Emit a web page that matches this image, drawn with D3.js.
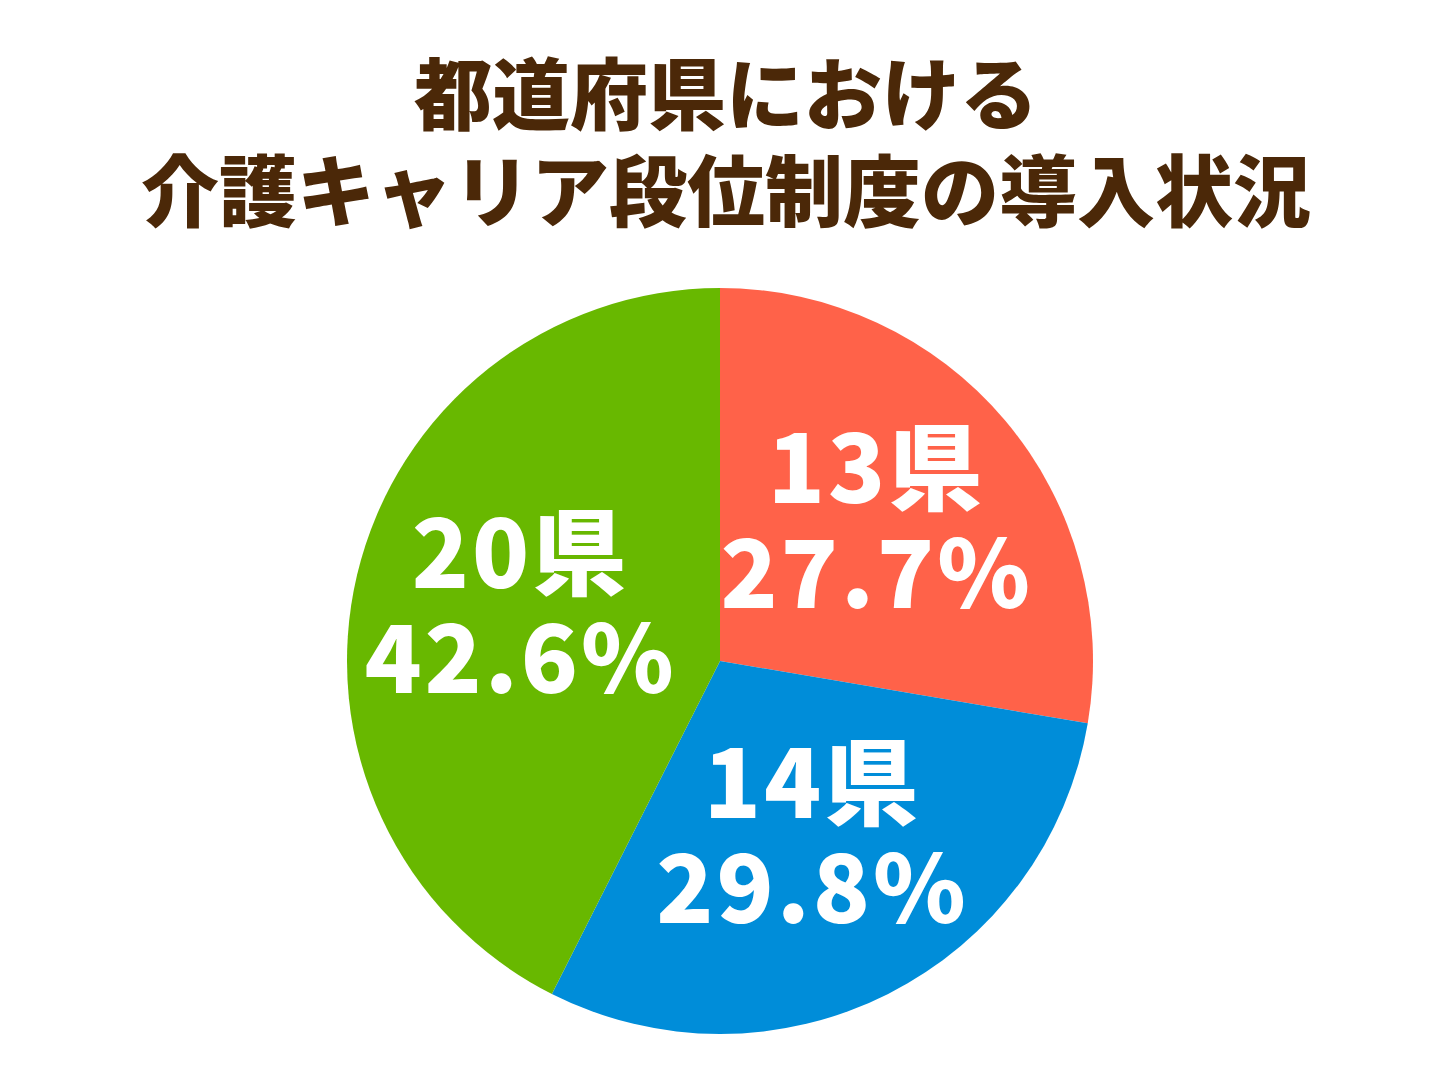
<!DOCTYPE html>
<html><head><meta charset="utf-8">
<script src="https://cdn.jsdelivr.net/npm/d3@7"></script>
<style>body{margin:0;background:#fff}</style>
</head><body>
<svg id="c" width="1452" height="1089"></svg>
<script>
const titleLines = ['都道府県における', '介護キャリア段位制度の導入状況'];
const counts = ['13県', '14県', '20県'];
const shares = [27.7, 29.8, 42.6];
const colors = ['#FF6249', '#008DD9', '#68B800'];

const svg = d3.select('#c');
const font = '"Noto Sans CJK JP", sans-serif';

svg.selectAll('text.title').data(titleLines).join('text')
  .attr('x', 726).attr('y', (d, i) => 124 + i * 97)
  .attr('text-anchor', 'middle')
  .attr('font-family', font).attr('font-weight', 900)
  .attr('font-size', 78).attr('fill', '#4B2808')
  .text(d => d);

const cx = 720, cy = 661, r = 373;
const g = svg.append('g').attr('transform', `translate(${cx},${cy})`);
const pie = d3.pie().sort(null).value(d => d);
const arcs = pie(shares);
const arc = d3.arc().innerRadius(0).outerRadius(r);
const labelArc = d3.arc().innerRadius(205).outerRadius(205);

g.selectAll('path').data(arcs).join('path')
  .attr('d', arc).attr('fill', (d, i) => colors[i]);

const lab = g.selectAll('g.lab').data(arcs).join('g')
  .attr('transform', d => `translate(${labelArc.centroid(d)})`);
lab.append('text').attr('y', -26).attr('text-anchor', 'middle')
  .attr('font-family', font).attr('font-weight', 900).attr('font-size', 94)
  .attr('fill', '#fff').attr('letter-spacing', 3)
  .text((d, i) => counts[i]);
lab.append('text').attr('y', 79).attr('text-anchor', 'middle')
  .attr('font-family', font).attr('font-weight', 900).attr('font-size', 94)
  .attr('fill', '#fff').attr('letter-spacing', 3)
  .text((d, i) => shares[i].toFixed(1) + '%');
</script>
</body></html>
